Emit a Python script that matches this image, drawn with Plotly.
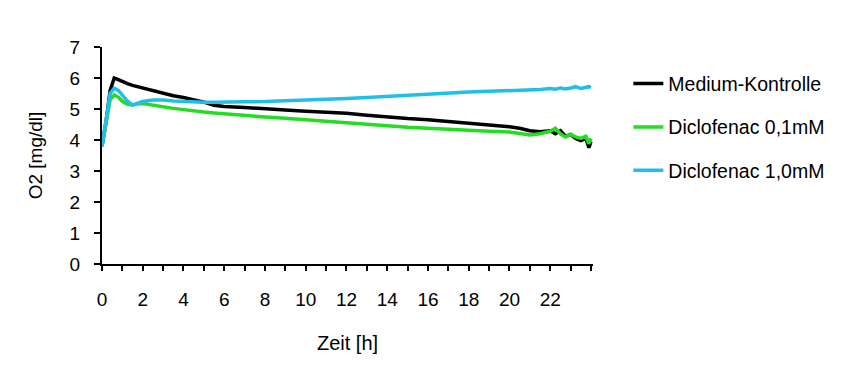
import plotly.graph_objects as go

# Time in hours
time_h = [0, 0.2, 0.4, 0.6, 0.8, 1.0, 1.25, 1.5, 1.75, 2.0, 2.5, 3.0, 3.5, 4.0, 4.5, 5, 5.5, 6,
          7, 8, 9, 10, 11, 12, 13, 14, 15, 16, 17, 18, 19, 20,
          20.5, 21, 21.5, 22, 22.25, 22.5, 22.75, 23, 23.25, 23.5, 23.75, 23.9, 24.0]

medium_kontrolle = [3.8, 4.6, 5.6, 6.0, 5.95, 5.88, 5.82, 5.76, 5.72, 5.67, 5.58, 5.5, 5.43, 5.37, 5.3, 5.22, 5.12, 5.08,
                    5.05, 5.0, 4.97, 4.93, 4.9, 4.86, 4.8, 4.74, 4.69, 4.65, 4.6, 4.54, 4.48, 4.43,
                    4.38, 4.3, 4.27, 4.3, 4.2, 4.3, 4.12, 4.18, 4.05, 3.98, 4.05, 3.75, 3.95]

diclofenac_01 = [3.8, 4.5, 5.3, 5.45, 5.38, 5.25, 5.15, 5.13, 5.17, 5.18, 5.12, 5.07, 5.02, 4.98, 4.93, 4.9, 4.87, 4.84,
                 4.79, 4.74, 4.7, 4.65, 4.6, 4.56, 4.51, 4.46, 4.41, 4.38, 4.34, 4.3, 4.28, 4.26,
                 4.2, 4.16, 4.2, 4.28, 4.38, 4.2, 4.1, 4.18, 4.1, 4.05, 4.12, 3.88, 4.05]

diclofenac_10 = [3.8, 4.6, 5.5, 5.67, 5.6, 5.45, 5.25, 5.13, 5.2, 5.24, 5.29, 5.29, 5.26, 5.24, 5.22, 5.22, 5.22, 5.23,
                 5.23, 5.24, 5.26, 5.28, 5.31, 5.34, 5.37, 5.41, 5.45, 5.48, 5.51, 5.55, 5.57, 5.59,
                 5.6, 5.61, 5.63, 5.66, 5.64, 5.68, 5.65, 5.68, 5.72, 5.66, 5.7, 5.72, 5.7]

series_names = ["Medium-Kontrolle", "Diclofenac 0,1mM", "Diclofenac 1,0mM"]
series_values = [medium_kontrolle, diclofenac_01, diclofenac_10]
series_colors = ["#000000", "#22dd22", "#1fbfe8"]

x_tickvals = list(range(0, 25))
x_ticktext = [str(v) if (v % 2 == 0 and v <= 22) else "" for v in x_tickvals]
y_tickvals = list(range(0, 8))

FONT = "Liberation Sans, Arial, sans-serif"

fig = go.Figure()
for i, (name, vals, col) in enumerate(zip(series_names, series_values, series_colors)):
    fig.add_trace(go.Scatter(x=time_h, y=vals, mode="lines", name=name,
                             line=dict(color=col, width=3.5), legendgroup=f"g{i}"))

fig.update_layout(
    width=850, height=377,
    margin=dict(l=94, r=265, t=39, b=121),
    paper_bgcolor="white", plot_bgcolor="white",
    font=dict(family=FONT, size=19, color="black"),
    showlegend=True,
    legend=dict(x=1.072, y=0.92, xanchor="left", yanchor="top",
                font=dict(family=FONT, size=19.5, color="black"), tracegroupgap=15,
                bgcolor="rgba(0,0,0,0)"),
    xaxis=dict(range=[0, 24.1], tickmode="array", tickvals=x_tickvals, ticktext=x_ticktext,
               ticks="outside", ticklen=5, tickwidth=2, tickcolor="black",
               showline=True, linecolor="black", linewidth=2, showgrid=False, zeroline=False,
               ticklabelstandoff=12, automargin=False,
               tickfont=dict(family=FONT, size=19, color="black"),
               title=dict(text="Zeit [h]", standoff=27,
                          font=dict(family=FONT, size=20, color="black"))),
    yaxis=dict(range=[0, 7], tickmode="array", tickvals=y_tickvals,
               ticks="outside", ticklen=6, tickwidth=2, tickcolor="black",
               showline=True, linecolor="black", linewidth=2, showgrid=False, zeroline=False,
               ticklabelstandoff=10, automargin=False,
               tickfont=dict(family=FONT, size=19, color="black"),
               title=dict(text="O2 [mg/dl]", standoff=22,
                          font=dict(family=FONT, size=19, color="black"))),
)

fig.write_html("out.html")
